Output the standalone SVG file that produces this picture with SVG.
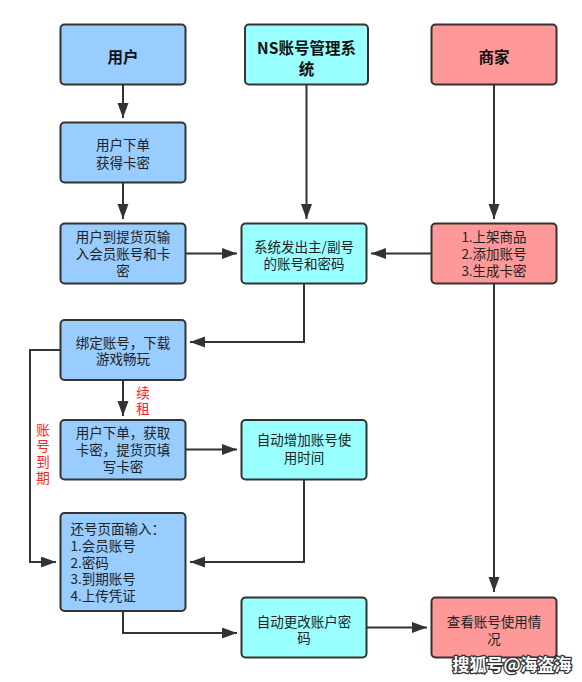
<svg xmlns="http://www.w3.org/2000/svg" width="582" height="682" viewBox="0 0 582 682">
<defs>
<style>
.b{fill:#99CCFF;stroke:#333;stroke-width:2}
.c{fill:#99FFFF;stroke:#333;stroke-width:2}
.r{fill:#FF9999;stroke:#3a2f2f;stroke-width:2}
text{font-family:"Noto Sans CJK SC","Liberation Sans",sans-serif;font-size:13.5px;fill:#222}
.m{text-anchor:middle}
.h{font-size:15.5px;font-weight:bold;fill:#111}
.red{fill:#FF2020;font-size:13.5px;writing-mode:vertical-rl;letter-spacing:2.5px}
.e{fill:none;stroke:#333;stroke-width:2}
.wm{font-size:17px;font-weight:bold;fill:#fff;stroke:#333;stroke-width:2.5;paint-order:stroke;text-anchor:middle}
</style>
<marker id="a" markerUnits="userSpaceOnUse" markerWidth="16" markerHeight="12" refX="15" refY="5.5" orient="auto">
<path d="M0,0 L15,5.5 L0,11 z" fill="#333"/>
</marker>
</defs>
<rect width="582" height="682" fill="#fff"/>
<g id="connectors">
<path class="e" d="M123 85 V118" marker-end="url(#a)"/>
<path class="e" d="M123 183 V219" marker-end="url(#a)"/>
<path class="e" d="M186 253.5 H237" marker-end="url(#a)"/>
<path class="e" d="M306.5 85 V219" marker-end="url(#a)"/>
<path class="e" d="M494 85 V219" marker-end="url(#a)"/>
<path class="e" d="M431 253.5 H371" marker-end="url(#a)"/>
<path class="e" d="M304 283.5 V342 H190" marker-end="url(#a)"/>
<path class="e" d="M123 380 V416" marker-end="url(#a)"/>
<path class="e" d="M60 350 H30 V562 H56" marker-end="url(#a)"/>
<path class="e" d="M186 449.5 H237" marker-end="url(#a)"/>
<path class="e" d="M304 479.5 V562 H190" marker-end="url(#a)"/>
<path class="e" d="M123 611 V633 H237" marker-end="url(#a)"/>
<path class="e" d="M367 627.5 H427" marker-end="url(#a)"/>
<path class="e" d="M494 283.5 V592" marker-end="url(#a)"/>
<text class="red" x="143" y="386">续租</text>
<text class="red" x="43" y="423">账号到期</text>
</g>
<g id="n-user">
<rect class="b" x="60.5" y="24.5" width="125" height="60" rx="4"/>
<text class="m h" x="123" y="62.5">用户</text>
</g>
<g id="n-ns">
<rect class="c" x="245" y="24.5" width="123" height="60" rx="4"/>
<text class="m h" x="306.5" y="53.5">NS账号管理系<tspan x="306.5" dy="21">统</tspan></text>
</g>
<g id="n-merchant">
<rect class="r" x="431.5" y="24.5" width="125" height="60" rx="4"/>
<text class="m h" x="494" y="62.5">商家</text>
</g>
<g id="n-order">
<rect class="b" x="60.5" y="122.5" width="125" height="60" rx="4"/>
<text class="m" x="123" y="150">用户下单<tspan x="123" dy="18">获得卡密</tspan></text>
</g>
<g id="n-redeem">
<rect class="b" x="60.5" y="223.5" width="125" height="60" rx="4"/>
<text class="m" x="123" y="241.5">用户到提货页输<tspan x="123" dy="17">入会员账号和卡</tspan><tspan x="123" dy="17">密</tspan></text>
</g>
<g id="n-system">
<rect class="c" x="241.5" y="223.5" width="125" height="60" rx="4"/>
<text class="m" x="304" y="252">系统发出主/副号<tspan x="304" dy="16.5">的账号和密码</tspan></text>
</g>
<g id="n-list">
<rect class="r" x="431.5" y="223.5" width="125" height="60" rx="4"/>
<text class="m" x="494" y="242">1.上架商品<tspan x="494" dy="17">2.添加账号</tspan><tspan x="494" dy="16.5">3.生成卡密</tspan></text>
</g>
<g id="n-bind">
<rect class="b" x="60.5" y="320" width="125" height="60" rx="4"/>
<text class="m" x="123" y="347.5">绑定账号，下载<tspan x="123" dy="16.5">游戏畅玩</tspan></text>
</g>
<g id="n-renew">
<rect class="b" x="60.5" y="420" width="125" height="59.5" rx="4"/>
<text class="m" x="123" y="438">用户下单，获取<tspan x="123" dy="17">卡密，提货页填</tspan><tspan x="123" dy="17">写卡密</tspan></text>
</g>
<g id="n-addtime">
<rect class="c" x="241.5" y="420" width="125" height="59.5" rx="4"/>
<text class="m" x="304" y="445">自动增加账号使<tspan x="304" dy="18">用时间</tspan></text>
</g>
<g id="n-return">
<rect class="b" x="60.5" y="513" width="125" height="98" rx="4"/>
<text x="70.5" y="534">还号页面输入：<tspan x="70.5" dy="17">1.会员账号</tspan><tspan x="70.5" dy="16.5">2.密码</tspan><tspan x="70.5" dy="16.5">3.到期账号</tspan><tspan x="70.5" dy="17">4.上传凭证</tspan></text>
</g>
<g id="n-changepw">
<rect class="c" x="241.5" y="597.5" width="125" height="60" rx="4"/>
<text class="m" x="304" y="626.5">自动更改账户密<tspan x="304" dy="16.5">码</tspan></text>
</g>
<g id="n-view">
<rect class="r" x="431.5" y="597.5" width="125" height="60" rx="4"/>
<text class="m" x="494" y="626.5">查看账号使用情<tspan x="494" dy="17.5">况</tspan></text>
</g>
<text class="wm" x="512" y="671">搜狐号@海盗海</text>
</svg>
